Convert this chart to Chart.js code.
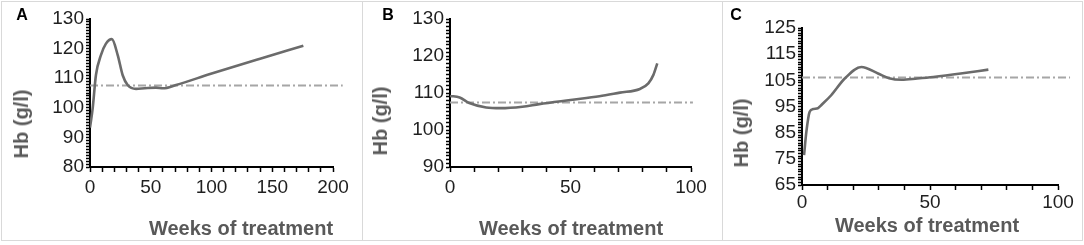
<!DOCTYPE html>
<html>
<head>
<meta charset="utf-8">
<script src="https://cdn.jsdelivr.net/npm/chart.js@4/dist/chart.umd.min.js"></script>
<style>
  html, body { margin: 0; padding: 0; background: #fff; }
  body { width: 1084px; height: 245px; position: relative; overflow: hidden; font-family: "Liberation Sans", Arial, sans-serif; }
  .panel { position: absolute; top: 1px; height: 240px; box-sizing: border-box; border: 1px solid #d9d9d9; }
  canvas { position: absolute; top: 0; }
  .t { position: absolute; font-weight: bold; line-height: 1; white-space: nowrap; transform: translate(-50%, -50%); }
  .xt { font-size: 20px; color: #595959; }
  .yt { font-size: 20px; color: #595959; transform: translate(-50%, -50%) rotate(-90deg); }
  .lt { font-size: 16px; color: #000; }
</style>
</head>
<body>
<div class="panel" style="left:1px;width:362px;"></div>
<div class="panel" style="left:362px;width:361px;"></div>
<div class="panel" style="left:722px;width:361px;"></div>

<canvas id="ca" width="362" height="240" style="left:0px;width:362px;height:240px;"></canvas>
<canvas id="cb" width="360" height="240" style="left:362px;width:360px;height:240px;"></canvas>
<canvas id="cc" width="362" height="240" style="left:722px;width:362px;height:240px;"></canvas>

<div class="t lt" style="left:22px;top:15px;">A</div>
<div class="t lt" style="left:388px;top:15px;">B</div>
<div class="t lt" style="left:736px;top:15px;">C</div>

<div class="t yt" style="left:21px;top:124px;">Hb (g/l)</div>
<div class="t yt" style="left:380px;top:121px;">Hb (g/l)</div>
<div class="t yt" style="left:741px;top:133px;">Hb (g/l)</div>

<div class="t xt" style="left:241px;top:228px;">Weeks of treatment</div>
<div class="t xt" style="left:571px;top:228px;">Weeks of treatment</div>
<div class="t xt" style="left:927px;top:225px;">Weeks of treatment</div>

<script>
// ---- Data ----
const aWeeks = [0, 2.2, 4.9, 9, 13, 18, 22.8, 26.9, 31, 37.9, 45, 54.3, 60, 70.8, 98.8, 140, 175.6];
const aHb    = [93.3, 99.8, 111.1, 117.8, 121.6, 123.2, 117.8, 111, 107.7, 106.4, 106.6, 106.8, 106.6, 107.7, 111.4, 116.6, 121];
const aRefWeeks = [0, 208];
const aRefHb    = [107.5, 107.5];

const bWeeks = [0, 4, 8, 15, 21, 30, 37, 50, 62, 70.5, 78.8, 82.3, 84.4, 86];
const bHb    = [109.2, 108.8, 107.3, 106.1, 105.9, 106.3, 107, 108.1, 109.1, 110.1, 111.1, 112.6, 114.9, 118];
const bRefWeeks = [0, 100.8];
const bRefHb    = [107.4, 107.4];

const cWeeks = [0.8, 1.7, 3, 4.4, 6.3, 7.5, 11.4, 16.7, 23.2, 29.7, 34, 38.9, 45, 51.3, 62, 72.8];
const cHb    = [76.4, 85.3, 93, 94, 94.4, 95.5, 99.3, 105.7, 110.1, 107.6, 105.8, 105.2, 105.7, 106.3, 107.6, 109.1];
const cRefWeeks = [0, 104.7];
const cRefHb    = [106.1, 106.1];

// axis ranges and tick steps
const aX = [0, 200], aY = [80, 130];
const bX = [0, 100], bY = [90, 130];
const cX = [0, 100], cY = [65, 125];
const xMinorStep = 10, xLabelStep = 50;
const yMinorStep = 1, yLabelStep = 10;

function pts(xs, ys) { return xs.map((x, i) => ({ x: x, y: ys[i] })); }

function makePanel(id, weeks, hb, refW, refH, xr, yr, pad, xPad) {
  new Chart(document.getElementById(id), {
    type: 'line',
    data: {
      datasets: [
        {
          data: pts(weeks, hb),
          borderColor: '#6b6b6b',
          borderWidth: 2.6,
          pointRadius: 0,
          cubicInterpolationMode: 'monotone',
          fill: false
        },
        {
          data: pts(refW, refH),
          borderColor: '#a6a6a6',
          borderWidth: 2,
          borderDash: [8, 3, 2, 3],
          pointRadius: 0,
          fill: false,
          clip: false
        }
      ]
    },
    options: {
      responsive: false,
      animation: false,
      events: [],
      layout: { padding: pad },
      plugins: { legend: { display: false }, tooltip: { enabled: false } },
      scales: {
        x: {
          type: 'linear',
          min: xr[0], max: xr[1],
          afterFit: s => { s.height = 30; },
          border: { display: true, color: '#000', width: 2 },
          grid: { drawOnChartArea: false, color: '#000', tickLength: 5, tickWidth: 1.5 },
          ticks: {
            stepSize: xMinorStep, autoSkip: false, maxRotation: 0, padding: xPad,
            color: '#1f1f1f',
            font: { family: '"Liberation Sans", Arial, sans-serif', size: 19 },
            callback: v => (v % xLabelStep === 0 ? String(v) : '')
          }
        },
        y: {
          type: 'linear',
          min: yr[0], max: yr[1],
          afterFit: s => { s.width = 40; },
          border: { display: true, color: '#000', width: 2 },
          grid: { drawOnChartArea: false, color: '#000', tickLength: 4, tickWidth: 1.5 },
          ticks: {
            stepSize: yMinorStep, autoSkip: false, padding: 2,
            color: '#1f1f1f',
            font: { family: '"Liberation Sans", Arial, sans-serif', size: 19 },
            callback: v => ((v - yr[0]) % yLabelStep === 0 ? String(v) : '')
          }
        }
      }
    }
  });
}

makePanel('ca', aWeeks, aHb, aRefWeeks, aRefHb, aX, aY, { left: 50, top: 19, right: 29, bottom: 43 }, 4);
makePanel('cb', bWeeks, bHb, bRefWeeks, bRefHb, bX, bY, { left: 48, top: 19, right: 31, bottom: 43 }, 4);
makePanel('cc', cWeeks, cHb, cRefWeeks, cRefHb, cX, cY, { left: 40, top: 28, right: 26, bottom: 25 }, 1);
</script>
</body>
</html>
